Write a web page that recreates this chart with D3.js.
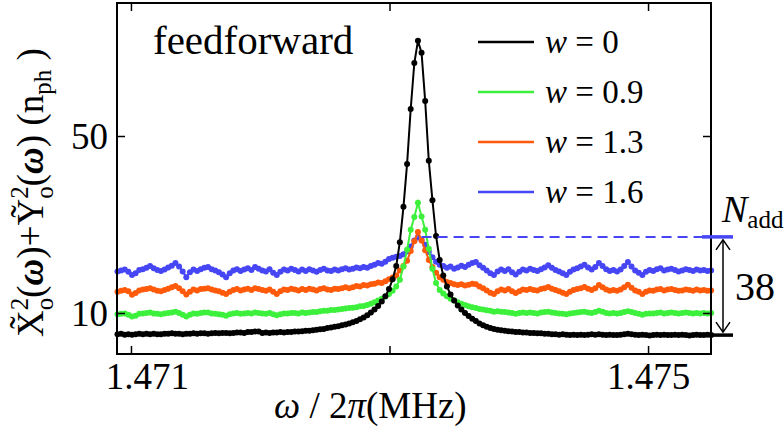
<!DOCTYPE html>
<html>
<head>
<meta charset="utf-8">
<script src="https://cdn.jsdelivr.net/npm/d3@7"></script>
<style>
  body { margin: 0; background: #fff; }
  text { font-family: "Liberation Serif", "Times New Roman", serif; fill: #000; }
</style>
</head>
<body>
<div id="chart"></div>
<script>
// frequency grid (MHz), one sample per point
var freqStart = 1.470896, freqStep = 0.000028, nPts = 165;

// spectra, photons (index 83 = resonance)
var specW0 = [
  5.2,5.3,5.1,5.2,5.1,5.2,5.3,5.2,5.3,5.2,
  5.3,5.2,5.2,5.3,5.3,5.4,5.3,5.3,5.2,5.3,
  5.3,5.4,5.3,5.4,5.4,5.3,5.4,5.5,5.4,5.5,
  5.5,5.4,5.5,5.6,5.6,5.5,5.7,5.7,5.8,5.8,
  5.5,5.6,5.5,5.6,5.6,5.7,5.6,5.7,5.7,5.8,
  5.8,5.9,6.0,6.0,6.1,6.2,6.3,6.4,6.6,6.7,
  6.9,7.0,7.2,7.4,7.6,7.9,8.2,8.6,9.0,9.5,
  10.1,10.8,11.6,12.6,13.8,15.4,17.6,20.6,26.0,34.0,43.7,56.1,66.5,
  71.5,
  68.8,57.9,44.4,35.5,27.4,22.0,18.5,16.0,14.2,12.8,
  11.7,10.8,10.0,9.3,8.7,8.2,7.6,7.2,6.9,6.6,
  6.4,6.2,6.1,6.0,5.9,5.8,5.7,5.7,5.6,5.6,
  5.5,5.5,5.4,5.4,5.3,5.3,5.2,5.2,5.1,5.2,
  5.1,5.0,5.1,5.0,5.1,5.0,5.1,5.2,5.1,5.2,
  5.1,5.0,5.1,5.0,5.0,5.1,5.2,5.3,5.2,5.1,
  5.0,5.1,5.0,4.9,5.0,5.1,5.0,5.1,5.0,5.0,
  5.1,5.0,5.1,5.0,4.9,5.0,5.1,5.0,5.0,5.1,5.0
];
var specW09 = [
  9.7,9.8,9.9,9.6,9.2,9.4,9.8,9.9,10.0,10.1,
  9.9,9.8,9.7,9.9,10.0,10.1,10.3,10.0,9.6,9.2,
  9.6,9.9,9.8,10.0,10.1,10.1,9.9,9.8,9.7,9.6,
  9.4,9.7,9.9,10.0,9.8,9.9,10.0,9.9,10.1,10.0,
  9.9,9.8,10.0,9.7,9.5,9.7,9.9,9.9,10.0,10.0,
  9.9,10.1,10.0,10.1,10.2,10.2,10.4,10.5,10.5,10.7,
  10.7,10.8,10.9,11.0,11.1,11.2,11.3,11.5,11.6,11.8,
  12.1,12.4,12.8,13.2,13.7,14.3,15.0,16.0,17.5,20.5,24.3,28.8,31.7,
  34.9,
  31.8,28.8,24.5,20.0,16.8,15.2,14.4,13.8,13.2,12.8,
  12.4,12.1,11.8,11.5,11.3,11.1,10.9,10.8,10.6,10.5,
  10.3,10.4,10.3,10.2,10.1,10.0,9.8,10.0,10.1,10.0,
  10.1,10.0,9.9,10.1,10.2,10.3,10.1,10.0,9.9,9.8,
  9.7,9.9,10.0,10.1,10.2,10.3,10.1,10.0,10.2,10.5,
  10.3,10.0,9.9,10.0,9.9,10.0,10.2,10.4,10.2,10.0,
  9.8,9.6,9.8,9.9,9.9,10.0,10.1,9.9,10.0,10.1,
  10.0,9.9,10.0,10.1,10.0,9.9,10.0,9.9,10.0,9.9,10.0
];
var specW13 = [
  14.8,15.0,15.2,14.9,14.1,14.5,15.1,15.3,15.4,15.6,
  15.3,15.0,14.9,15.2,15.5,15.8,16.1,15.6,14.9,14.2,
  14.8,15.3,15.1,15.4,15.5,15.6,15.3,15.1,14.9,14.6,
  14.3,14.8,15.2,15.4,15.1,15.3,15.5,15.2,15.6,15.4,
  15.2,15.0,15.3,14.8,14.3,14.9,15.3,15.2,15.5,15.3,
  15.1,15.4,15.2,15.5,15.3,15.1,15.4,15.6,15.3,15.2,
  15.5,15.4,15.6,15.8,15.6,15.8,16.1,16.0,16.3,16.2,
  16.5,16.6,16.9,16.8,17.2,17.6,18.0,18.5,19.6,20.6,21.8,24.0,26.2,
  28.3,
  26.4,24.2,22.0,20.4,19.1,18.1,17.5,17.0,16.8,16.5,
  16.3,16.5,16.2,16.4,16.6,16.5,16.0,15.6,15.1,14.6,
  14.3,14.9,15.3,15.1,15.4,14.9,14.5,14.9,15.3,15.2,
  15.4,15.2,15.1,15.4,15.6,15.9,15.5,15.2,14.9,14.6,
  14.3,14.8,15.2,15.4,15.6,15.9,15.5,15.2,15.6,16.3,
  15.8,15.3,15.0,15.2,15.0,15.3,15.8,16.4,15.7,15.1,
  14.8,14.3,14.8,15.1,15.0,15.3,15.4,15.1,15.3,15.4,
  15.2,15.0,15.1,15.3,15.2,15.0,15.3,15.1,15.2,15.0,15.1
];
var specW16 = [
  19.4,19.6,19.8,19.3,18.6,19.0,19.7,19.9,20.2,20.6,
  20.1,19.7,19.5,19.8,20.3,20.7,21.3,20.5,19.4,18.1,
  19.2,19.8,19.5,19.9,20.2,20.4,19.9,19.6,19.2,18.7,
  18.1,19.0,19.6,19.9,19.5,19.8,20.1,19.7,20.4,20.0,
  19.6,19.4,19.9,19.1,18.6,19.3,19.8,19.6,20.0,19.7,
  19.4,19.8,19.5,19.9,19.6,19.3,19.7,20.0,19.6,19.5,
  19.8,19.6,19.9,20.1,19.8,20.0,20.3,20.1,20.4,20.2,
  20.6,20.9,21.3,21.1,21.6,22.2,22.5,22.7,22.9,23.3,23.9,25.0,26.4,
  27.1,
  26.5,25.4,23.8,22.6,21.6,20.9,20.6,20.2,20.5,20.0,
  20.3,20.7,20.4,20.9,21.3,21.5,20.8,20.2,19.6,19.0,
  18.6,19.4,19.8,19.5,19.9,19.2,18.7,19.3,19.8,19.6,
  20.0,19.7,19.5,19.9,20.3,20.8,20.2,19.7,19.4,19.0,
  18.6,19.3,19.8,20.1,20.5,20.9,20.3,19.8,20.4,21.3,
  20.6,19.9,19.5,19.7,19.4,19.8,20.6,21.5,20.5,19.6,
  19.1,18.6,19.3,19.7,19.5,19.9,20.1,19.6,19.8,20.0,
  19.7,19.4,19.6,19.9,19.7,19.5,19.8,19.6,19.7,19.5,19.6
];

var seriesNames = ["0", "0.9", "1.3", "1.6"];
var seriesColors = ["#000000", "#3cf03c", "#ff5a0a", "#4646f5"];
var seriesData = [specW0, specW09, specW13, specW16];

var xTicks = [1.471, 1.473, 1.475];
var xTickLabels = ["1.471", "", "1.475"];
var yTicks = [10, 50];

var nAdd = 27.2;        // added-noise level (dashed line)
var floorW0 = 5.0;      // w = 0 background
var nAddLabel = "38";

(function() {
var freq = d3.range(nPts).map(function(i) { return freqStart + i * freqStep; });

var width = 784, height = 438;
var pL = 117, pR = 711, pT = 3, pB = 354;

var svg = d3.select("#chart").append("svg")
  .attr("width", width)
  .attr("height", height);

var x = d3.scaleLinear().domain([1.470892, 1.475487]).range([pL, pR]);
var y = d3.scaleLinear().domain([0.73, 80.06]).range([pB, pT]);

// series, drawn so that w = 0 ends on top
var line = d3.line()
  .x(function(d) { return x(d.f); })
  .y(function(d) { return y(d.v); });

for (var s = seriesData.length - 1; s >= 0; s--) {
  var pts = seriesData[s].map(function(v, i) { return { f: freq[i], v: v }; });
  var g = svg.append("g");
  g.append("path")
    .datum(pts)
    .attr("d", line)
    .attr("fill", "none")
    .attr("stroke", seriesColors[s])
    .attr("stroke-width", 2);
  g.selectAll("circle")
    .data(pts)
    .enter()
    .append("circle")
    .attr("cx", function(d) { return x(d.f); })
    .attr("cy", function(d) { return y(d.v); })
    .attr("r", 3)
    .attr("fill", seriesColors[s]);
}

// N_add dashed level
svg.append("line")
  .attr("x1", x(freq[84])).attr("x2", pR)
  .attr("y1", y(nAdd)).attr("y2", y(nAdd))
  .attr("stroke", seriesColors[3])
  .attr("stroke-width", 2)
  .attr("stroke-dasharray", "10,6");

// frame
svg.append("rect")
  .attr("x", pL).attr("y", pT)
  .attr("width", pR - pL).attr("height", pB - pT)
  .attr("fill", "none")
  .attr("stroke", "#000")
  .attr("stroke-width", 2);

// axes, inward ticks
var axB = svg.append("g").attr("transform", "translate(0," + pB + ")")
  .call(d3.axisBottom(x).tickValues(xTicks).tickSize(-8)
    .tickFormat(function(d, i) { return xTickLabels[i]; }));
var axT = svg.append("g").attr("transform", "translate(0," + pT + ")")
  .call(d3.axisTop(x).tickValues(xTicks).tickSize(-8).tickFormat(""));
var axL = svg.append("g").attr("transform", "translate(" + pL + ",0)")
  .call(d3.axisLeft(y).tickValues(yTicks).tickSize(-8));
var axR = svg.append("g").attr("transform", "translate(" + pR + ",0)")
  .call(d3.axisRight(y).tickValues(yTicks).tickSize(-8).tickFormat(""));

[axB, axT, axL, axR].forEach(function(a) {
  a.attr("font-family", null).attr("font-size", null);
  a.select(".domain").remove();
  a.selectAll(".tick line").attr("stroke", "#000").attr("stroke-width", 1.5);
});
axB.selectAll(".tick text")
  .attr("y", 35).attr("dy", 0)
  .attr("font-size", 37)
  .attr("fill", "#000");
axB.select(".tick text").attr("dx", 16);
axL.selectAll(".tick text")
  .attr("x", -9).attr("dy", "0.34em")
  .attr("font-size", 37)
  .attr("fill", "#000");

// x label
var xl = svg.append("text")
  .attr("x", 274).attr("y", 418)
  .attr("font-size", 37);
xl.append("tspan").attr("font-style", "italic").text("\u03c9");
xl.append("tspan").text(" / 2");
xl.append("tspan").attr("font-style", "italic").text("\u03c0");
xl.append("tspan").text("(MHz)");

// y label
var yl = svg.append("text")
  .attr("transform", "translate(43,337) rotate(-90)")
  .attr("font-size", 37);
function yPart(t, o) {
  var sp = yl.append("tspan").text(t);
  if (o) for (var k in o) sp.attr(k, o[k]);
  return sp;
}
yPart("X\u0303");
yPart("2", { "font-size": 25, dy: -15 });
yPart("o", { "font-size": 25, dx: -12.5, dy: 25 });
yPart("(", { dy: -10 });
yPart("\u03c9", { "font-style": "italic", "font-weight": "bold" });
yPart(")+");
yPart("Y\u0303");
yPart("2", { "font-size": 25, dy: -15 });
yPart("o", { "font-size": 25, dx: -12.5, dy: 25 });
yPart("(", { dy: -10 });
yPart("\u03c9", { "font-style": "italic", "font-weight": "bold" });
yPart(") (n");
yPart("ph", { "font-size": 25, dy: 8 });
yPart(" )", { dy: -8 });

// panel label
svg.append("text")
  .attr("x", 153).attr("y", 54)
  .attr("font-size", 41)
  .text("feedforward");

// legend
var leg = svg.append("g")
  .selectAll("g")
  .data(seriesNames)
  .enter()
  .append("g")
  .attr("transform", function(d, i) { return "translate(478," + (42 + i * 50) + ")"; });
leg.append("line")
  .attr("x1", 0).attr("x2", 56)
  .attr("stroke", function(d, i) { return seriesColors[i]; })
  .attr("stroke-width", 2.5);
var lt = leg.append("text")
  .attr("x", 67).attr("dy", "0.34em")
  .attr("font-size", 33);
lt.append("tspan").attr("font-style", "italic").text("w");
lt.append("tspan").text(function(d) { return " = " + d; });

// N_add annotation on the right
svg.append("line")
  .attr("x1", 702).attr("x2", 733)
  .attr("y1", y(nAdd)).attr("y2", y(nAdd))
  .attr("stroke", seriesColors[3]).attr("stroke-width", 3.5);
svg.append("line")
  .attr("x1", 702).attr("x2", 733)
  .attr("y1", y(floorW0)).attr("y2", y(floorW0))
  .attr("stroke", "#000").attr("stroke-width", 3.5);

var ax = 723, ay1 = y(nAdd) + 3, ay2 = y(floorW0) - 3;
svg.append("line")
  .attr("x1", ax).attr("x2", ax).attr("y1", ay1).attr("y2", ay2)
  .attr("stroke", "#000").attr("stroke-width", 1.5);
svg.append("path")
  .attr("d", "M" + (ax - 7) + "," + (ay1 + 10) + "L" + ax + "," + ay1 + "L" + (ax + 7) + "," + (ay1 + 10)
    + "M" + (ax - 7) + "," + (ay2 - 10) + "L" + ax + "," + ay2 + "L" + (ax + 7) + "," + (ay2 - 10))
  .attr("fill", "none").attr("stroke", "#000").attr("stroke-width", 1.5);

var na = svg.append("text").attr("x", 722).attr("y", 222).attr("font-size", 38);
na.append("tspan").attr("font-style", "italic").text("N");
na.append("tspan").attr("font-size", 25).attr("dy", 6).text("add");

svg.append("text")
  .attr("x", 735).attr("y", (y(nAdd) + y(floorW0)) / 2)
  .attr("dy", "0.36em")
  .attr("font-size", 40)
  .text(nAddLabel);
})();
</script>
</body>
</html>
